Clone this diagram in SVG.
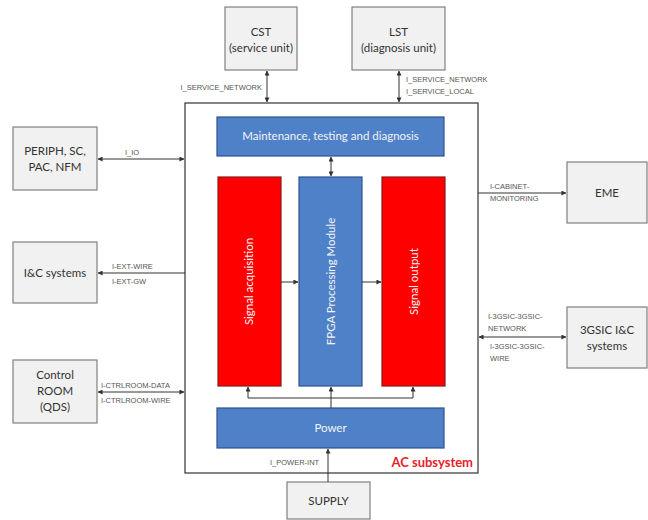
<svg xmlns="http://www.w3.org/2000/svg" width="648" height="520" viewBox="0 0 648 520">
  <defs>
    <marker id="arr" viewBox="0 0 6 6" refX="5.5" refY="3" markerWidth="5" markerHeight="5" orient="auto-start-reverse">
      <path d="M0,0 L6,3 L0,6 z" fill="#333"/>
    </marker>
    <style>
      .ext { fill: #f1f1f1; stroke: #808080; stroke-width: 1.2; }
      .blue { fill: #4f81c9; stroke: #2f528f; stroke-width: 1.2; }
      .red { fill: #ff0000; stroke: #8b1a1a; stroke-width: 1.2; }
      .frame { fill: #ffffff; stroke: #333; stroke-width: 1.2; }
      .nt { font-family: Lato, "Liberation Sans", sans-serif; font-size: 11.5px; fill: #333; text-anchor: middle; }
      .wt { font-family: Lato, "Liberation Sans", sans-serif; font-size: 11.5px; fill: #f4f4f4; text-anchor: middle; }
      .lb { font-family: "Liberation Sans Narrow", "Liberation Sans", sans-serif; font-size: 7.5px; fill: #555; }
      .ln { fill: none; stroke: #333; stroke-width: 1; }
      .red-t { font-family: Lato, "Liberation Sans", sans-serif; font-size: 13px; font-weight: bold; fill: #e8202a; }
    </style>
  </defs>

  <rect width="648" height="520" fill="#ffffff"/>

  <!-- AC subsystem frame -->
  <g id="ac-subsystem">
    <rect class="frame" x="185" y="103" width="293" height="370"/>
    <text class="red-t" x="473" y="467" text-anchor="end">AC subsystem</text>
  </g>

  <!-- External units -->
  <g id="cst">
    <rect class="ext" x="225" y="7" width="72" height="63"/>
    <text class="nt" x="261" y="36">CST</text>
    <text class="nt" x="261" y="52">(service unit)</text>
  </g>
  <g id="lst">
    <rect class="ext" x="352" y="7" width="93" height="63"/>
    <text class="nt" x="398.5" y="36">LST</text>
    <text class="nt" x="398.5" y="52">(diagnosis unit)</text>
  </g>
  <g id="periph">
    <rect class="ext" x="13" y="127" width="84" height="63"/>
    <text class="nt" x="55" y="155">PERIPH, SC,</text>
    <text class="nt" x="55" y="171">PAC, NFM</text>
  </g>
  <g id="ic-systems">
    <rect class="ext" x="13" y="242" width="84" height="61"/>
    <text class="nt" x="55" y="277">I&amp;C systems</text>
  </g>
  <g id="control-room">
    <rect class="ext" x="13" y="360" width="84" height="63"/>
    <text class="nt" x="55" y="379">Control</text>
    <text class="nt" x="55" y="395">ROOM</text>
    <text class="nt" x="55" y="411">(QDS)</text>
  </g>
  <g id="eme">
    <rect class="ext" x="567" y="162" width="80" height="61"/>
    <text class="nt" x="607" y="197">EME</text>
  </g>
  <g id="gsic">
    <rect class="ext" x="567" y="307" width="80" height="61"/>
    <text class="nt" x="607" y="334">3GSIC I&amp;C</text>
    <text class="nt" x="607" y="350">systems</text>
  </g>
  <g id="supply">
    <rect class="ext" x="287" y="482" width="83" height="37"/>
    <text class="nt" x="328.5" y="505">SUPPLY</text>
  </g>

  <!-- Internal modules -->
  <g id="maintenance">
    <rect class="blue" x="217" y="117" width="227" height="39"/>
    <text class="wt" x="330.5" y="140">Maintenance, testing and diagnosis</text>
  </g>
  <g id="signal-acquisition">
    <rect class="red" x="218" y="177" width="63" height="209"/>
    <text class="wt" transform="translate(253,281.5) rotate(-90)">Signal acquisition</text>
  </g>
  <g id="fpga">
    <rect class="blue" x="299" y="177" width="63" height="209"/>
    <text class="wt" transform="translate(334.5,281.5) rotate(-90)">FPGA Processing Module</text>
  </g>
  <g id="signal-output">
    <rect class="red" x="382" y="177" width="63" height="209"/>
    <text class="wt" transform="translate(417.5,281.5) rotate(-90)">Signal output</text>
  </g>
  <g id="power">
    <rect class="blue" x="217" y="408" width="227" height="40"/>
    <text class="wt" x="330.5" y="432">Power</text>
  </g>

  <!-- Connectors -->
  <g id="connectors">
    <line class="ln" x1="267" y1="71" x2="267" y2="102" marker-start="url(#arr)" marker-end="url(#arr)"/>
    <line class="ln" x1="399" y1="71" x2="399" y2="102" marker-start="url(#arr)" marker-end="url(#arr)"/>
    <line class="ln" x1="98" y1="159" x2="184" y2="159" marker-start="url(#arr)" marker-end="url(#arr)"/>
    <line class="ln" x1="185" y1="273" x2="98" y2="273" marker-end="url(#arr)"/>
    <line class="ln" x1="98" y1="392" x2="184" y2="392" marker-start="url(#arr)" marker-end="url(#arr)"/>
    <line class="ln" x1="478" y1="193" x2="566" y2="193" marker-end="url(#arr)"/>
    <line class="ln" x1="479" y1="337" x2="566" y2="337" marker-start="url(#arr)" marker-end="url(#arr)"/>
    <line class="ln" x1="331" y1="157" x2="331" y2="176" marker-start="url(#arr)" marker-end="url(#arr)"/>
    <line class="ln" x1="281" y1="282" x2="298" y2="282" marker-end="url(#arr)"/>
    <line class="ln" x1="362" y1="282" x2="381" y2="282" marker-end="url(#arr)"/>
    <line class="ln" x1="331" y1="408" x2="331" y2="387" marker-end="url(#arr)"/>
    <polyline class="ln" points="248,387 248,398 413,398 413,387" marker-start="url(#arr)" marker-end="url(#arr)"/>
    <line class="ln" x1="328" y1="482" x2="328" y2="449" marker-end="url(#arr)"/>

    <text class="lb" x="262" y="90" text-anchor="end">I_SERVICE_NETWORK</text>
    <text class="lb" x="406" y="82">I_SERVICE_NETWORK</text>
    <text class="lb" x="406" y="94">I_SERVICE_LOCAL</text>
    <text class="lb" x="125" y="155">I_IO</text>
    <text class="lb" x="112" y="269">I-EXT-WIRE</text>
    <text class="lb" x="112" y="284">I-EXT-GW</text>
    <text class="lb" x="101" y="388">I-CTRLROOM-DATA</text>
    <text class="lb" x="101" y="403">I-CTRLROOM-WIRE</text>
    <text class="lb" x="490" y="189">I-CABINET-</text>
    <text class="lb" x="490" y="201">MONITORING</text>
    <text class="lb" x="488" y="319">I-3GSIC-3GSIC-</text>
    <text class="lb" x="488" y="331">NETWORK</text>
    <text class="lb" x="490" y="349">I-3GSIC-3GSIC-</text>
    <text class="lb" x="490" y="361">WIRE</text>
    <text class="lb" x="270" y="465">I_POWER-INT</text>
  </g>
</svg>
